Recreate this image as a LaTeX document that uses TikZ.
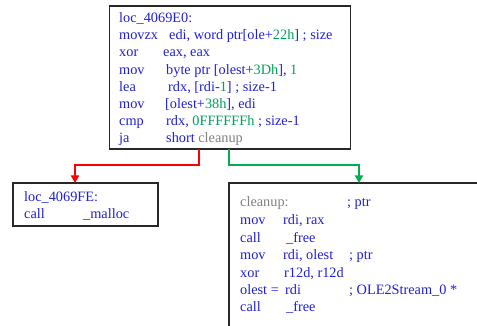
\documentclass[tikz,border=0pt]{standalone}
\usepackage{fontspec}
\setmainfont{Liberation Serif}
\usetikzlibrary{arrows.meta}
\definecolor{asmblue}{RGB}{32,32,215}
\definecolor{asmnum}{RGB}{0,160,90}
\definecolor{asmgray}{RGB}{128,128,128}
\definecolor{edgeno}{RGB}{255,0,0}
\definecolor{edgeyes}{RGB}{0,176,80}
\definecolor{frame}{RGB}{40,40,40}

\tikzset{
  blockbox/.style={draw=frame, line width=1.6pt, fill=white, inner sep=0pt, outer sep=0pt, anchor=north west},
  asm/.style={anchor=base west, inner sep=0pt, text=asmblue, font=\fontsize{14.3}{17}\selectfont},
  flow/.style={line width=2pt, -{Triangle[width=8pt,length=7.5pt]}},
}
\newcommand{\nm}[1]{\textcolor{asmnum}{#1}}
\newcommand{\lbl}[1]{\textcolor{asmgray}{#1}}

\begin{document}
\begin{tikzpicture}[x=1pt,y=-1pt]
\clip (0,0) rectangle (477,326);
\fill[white] (0,0) rectangle (477,326);

% basic blocks
\node[blockbox, minimum width=241pt, minimum height=143pt] (top) at (109.5,6) {};
\node[blockbox, minimum width=145pt, minimum height=43pt] (left) at (13,183) {};
\node[blockbox, minimum width=270pt, minimum height=170pt] (right) at (229,183) {};

% block loc_4069E0
\node[asm] (t1) at (119,22.5) {loc\_4069E0:};
\node[asm] (t2a) at (119,39.7) {movzx};
\node[asm] (t2b) at (169,39.7) {edi, word ptr[ole+\nm{22h}] ; size};
\node[asm] (t3a) at (119,56.9) {xor};
\node[asm] (t3b) at (163,56.9) {eax, eax};
\node[asm] (t4a) at (119,74.1) {mov};
\node[asm] (t4b) at (166,74.1) {byte ptr [olest+\nm{3Dh}], \nm{1}};
\node[asm] (t5a) at (119,91.3) {lea};
\node[asm] (t5b) at (168,91.3) {rdx, [rdi-\nm{1}] ; size-1};
\node[asm] (t6a) at (119,108.5) {mov};
\node[asm] (t6b) at (165,108.5) {[olest+\nm{38h}], edi};
\node[asm] (t7a) at (119,125.7) {cmp};
\node[asm] (t7b) at (166,125.7) {rdx, \nm{0FFFFFFh} ; size-1};
\node[asm] (t8a) at (119,142.9) {ja};
\node[asm] (t8b) at (166,142.9) {short \lbl{cleanup}};

% block loc_4069FE
\node[asm] (l1) at (24,201.5) {loc\_4069FE:};
\node[asm] (l2a) at (24,218.5) {call};
\node[asm] (l2b) at (83,218.5) {\_malloc};

% block cleanup
\node[asm] (r1a) at (240,207) {\lbl{cleanup:}};
\node[asm] (r1b) at (347,207) {; ptr};
\node[asm] (r2a) at (240,224.5) {mov};
\node[asm] (r2b) at (283,224.5) {rdi, rax};
\node[asm] (r3a) at (240,242) {call};
\node[asm] (r3b) at (286,242) {\_free};
\node[asm] (r4a) at (240,259.5) {mov};
\node[asm] (r4b) at (283,259.5) {rdi, olest};
\node[asm] (r4c) at (349,259.5) {; ptr};
\node[asm] (r5a) at (240,277) {xor};
\node[asm] (r5b) at (284,277) {r12d, r12d};
\node[asm] (r6a) at (240,294.3) {olest =};
\node[asm] (r6b) at (285,294.3) {rdi};
\node[asm] (r6c) at (349,294.3) {; OLE2Stream\_0 *};
\node[asm] (r7a) at (240,311.7) {call};
\node[asm] (r7b) at (286,311.7) {\_free};

% branch edges
\coordinate (nobend) at (199,165);
\coordinate (nodrop) at (75,165);
\coordinate (yesbend) at (229,165);
\coordinate (yesdrop) at (359,165);
\draw[flow, edgeno] (nobend |- top.south) -- (nobend) -- (nodrop) -- (nodrop |- left.north);
\draw[flow, edgeyes] (yesbend |- top.south) -- (yesbend) -- (yesdrop) -- (yesdrop |- right.north);
\end{tikzpicture}
\end{document}
